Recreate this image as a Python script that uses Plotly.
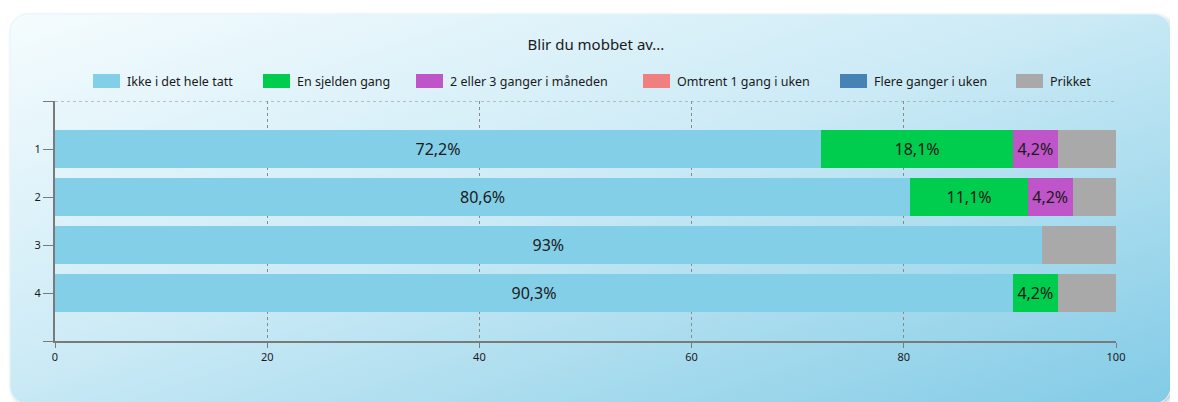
import base64
import plotly.graph_objects as go

categories = [1, 2, 3, 4]
series_names = ["Ikke i det hele tatt", "En sjelden gang", "2 eller 3 ganger i måneden",
                "Omtrent 1 gang i uken", "Flere ganger i uken", "Prikket"]
ikke = [72.2, 80.6, 93.0, 90.3]
sjelden = [18.1, 11.1, 0.0, 4.2]
to_tre = [4.2, 4.2, 0.0, 0.0]
omtrent = [0.0, 0.0, 0.0, 0.0]
flere = [0.0, 0.0, 0.0, 0.0]
prikket = [5.5, 4.1, 7.0, 5.5]
colors = ["#82cfe7", "#00cc4e", "#bf55c8", "#f08080", "#4682b4", "#a9a9a9"]
x_ticks = [0, 20, 40, 60, 80, 100]

# page offset (browser body margin) compensation
OFF = 8
W, H = 1178 - OFF, 402 - OFF
ML, MT, MR, MB = 55 - OFF, 101 - OFF, 62, 61
PW = W - ML - MR
PH = H - MT - MB


def px(X):
    return (X - OFF - ML) / PW


def py(Y):
    return 1 - (Y - OFF - MT) / PH


svg = f'''<svg xmlns="http://www.w3.org/2000/svg" width="{W}" height="{H}" viewBox="0 0 {W} {H}" preserveAspectRatio="none">
<defs>
<linearGradient id="g" x1="0" y1="0" x2="1" y2="1">
<stop offset="0" stop-color="#f5fcfe"/>
<stop offset="0.45" stop-color="#cdebf6"/>
<stop offset="1" stop-color="#82cbe6"/>
</linearGradient>
<filter id="s" x="-5%" y="-5%" width="110%" height="110%"><feGaussianBlur stdDeviation="2"/></filter>
</defs>
<rect x="{12-OFF}" y="{16-OFF}" width="1162" height="390" rx="18" ry="18" fill="#9aa4aa" opacity="0.55" filter="url(#s)"/>
<rect x="{10-OFF}" y="{14-OFF}" width="1161" height="390" rx="18" ry="18" fill="url(#g)" stroke="#e8f4f8" stroke-width="1"/>
</svg>'''
src = "data:image/svg+xml;base64," + base64.b64encode(svg.encode("utf-8")).decode("ascii")


def fmt(v):
    if v <= 0:
        return ""
    s = f"{v:.1f}"
    if s.endswith(".0"):
        s = s[:-2]
    return s.replace(".", ",") + "%"


fig = go.Figure()
all_vals = [ikke, sjelden, to_tre, omtrent, flere, prikket]
for i, (name, vals) in enumerate(zip(series_names, all_vals)):
    texts = [fmt(v) for v in vals] if name != "Prikket" else ["" for _ in vals]
    fig.add_trace(go.Bar(
        y=categories, x=vals, name=name, orientation="h",
        marker=dict(color=colors[i], line=dict(width=0)),
        text=texts, textposition="inside", insidetextanchor="middle",
        textfont=dict(color="#1a1a1a", size=16, family="Noto Sans"),
        width=0.8, hoverinfo="x+name", showlegend=False,
    ))

# custom legend (wide swatches like the reference)
legend_swatch_x = [93, 263, 416, 643, 840, 1016]
shapes = []
annotations = []
for i, name in enumerate(series_names):
    x0 = legend_swatch_x[i]
    shapes.append(dict(type="rect", xref="paper", yref="paper",
                       x0=px(x0), x1=px(x0 + 27), y0=py(88), y1=py(74),
                       fillcolor=colors[i], line=dict(width=0), layer="above"))
    annotations.append(dict(text=name, xref="paper", yref="paper", x=px(x0 + 32), y=py(81),
                            xanchor="left", yanchor="middle", showarrow=False,
                            font=dict(size=12.5, family="Noto Sans", color="#1a1a1a")))

fig.update_layout(
    width=W, height=H,
    barmode="stack",
    paper_bgcolor="white",
    plot_bgcolor="rgba(0,0,0,0)",
    margin=dict(l=ML, r=MR, t=MT, b=MB, autoexpand=False),
    font=dict(family="Noto Sans", color="#1a1a1a"),
    title=dict(text="Blir du mobbet av...", x=(596 - OFF) / W, xanchor="center",
               y=1 - (45 - OFF) / H, yanchor="middle",
               font=dict(size=15, family="Noto Sans", color="#1a1a1a")),
    showlegend=False,
    uniformtext=dict(mode="show", minsize=10),
    images=[dict(source=src, xref="paper", yref="paper", x=px(OFF), y=py(OFF),
                 sizex=W / PW, sizey=H / PH,
                 xanchor="left", yanchor="top", sizing="stretch", layer="below")],
    shapes=shapes,
    annotations=annotations,
)

fig.update_xaxes(
    range=[0, 100], tickvals=x_ticks, ticks="outside", ticklen=5, tickcolor="#7a7a7a",
    showline=True, linecolor="#7a7a7a", linewidth=2,
    showgrid=True, gridcolor="#8a8a8a", gridwidth=1, griddash="dot",
    zeroline=False, tickfont=dict(size=11, family="Noto Sans"),
)
fig.update_yaxes(
    range=[5, 0], tickvals=[0, 1, 2, 3, 4, 5], ticktext=["", "1", "2", "3", "4", ""],
    ticks="outside", ticklen=10, tickcolor="#7a7a7a",
    showline=True, linecolor="#7a7a7a", linewidth=2, showgrid=False, zeroline=False,
    tickfont=dict(size=11, family="Noto Sans"),
)
fig.add_shape(type="line", xref="x", yref="y", x0=0, x1=100, y0=0, y1=0,
              line=dict(color="#8a8a8a", width=1, dash="dot"), layer="above")

fig.write_html("out.html")
